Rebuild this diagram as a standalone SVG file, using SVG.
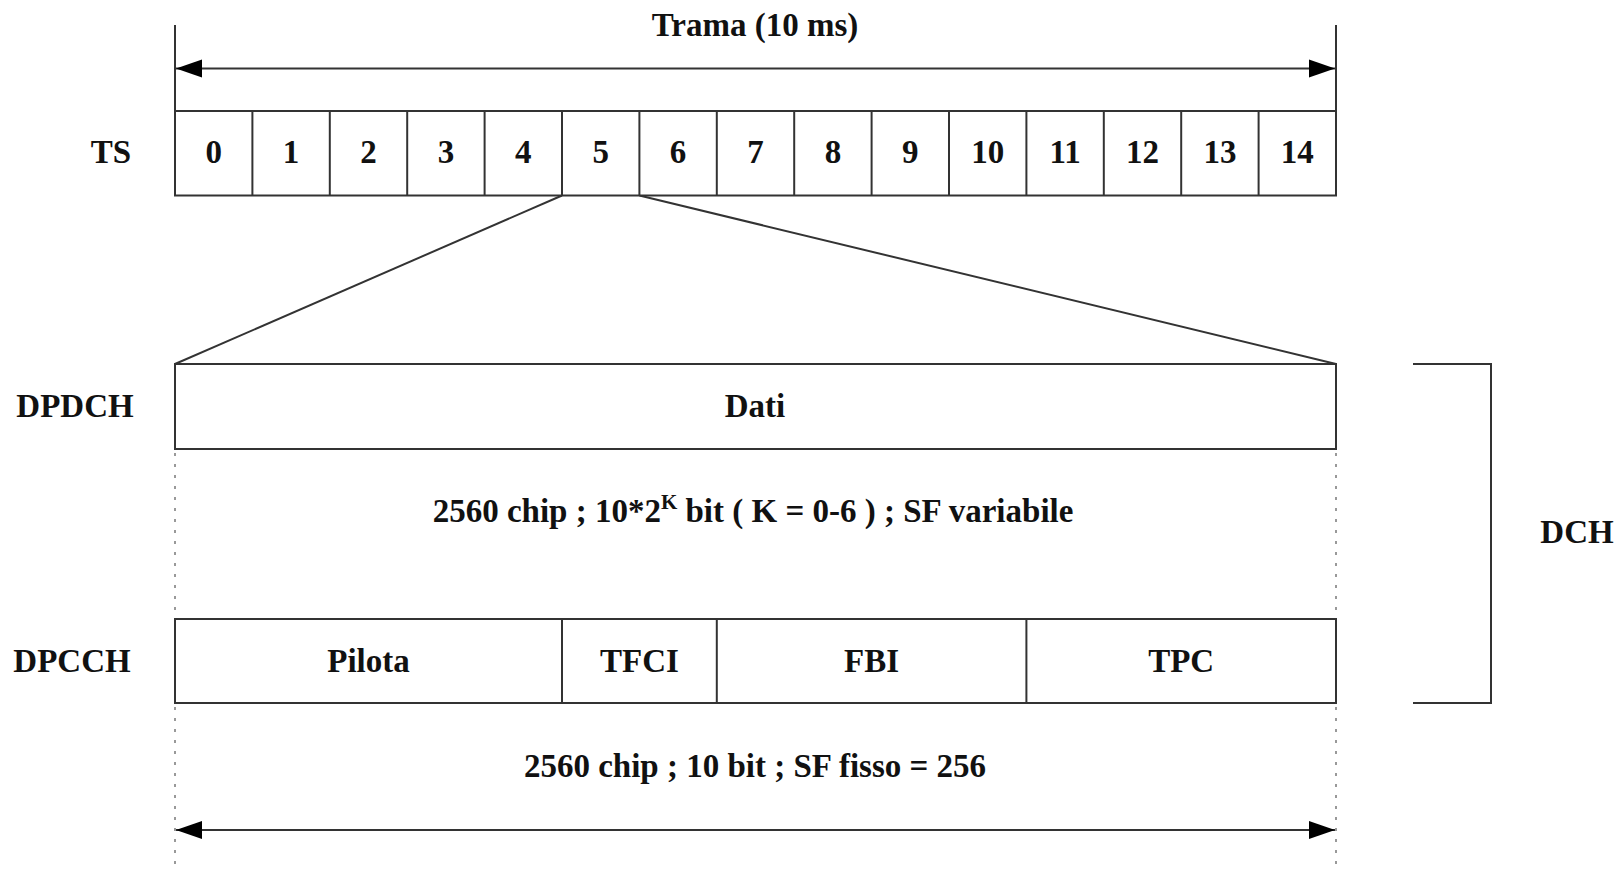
<svg xmlns="http://www.w3.org/2000/svg" width="1624" height="872" viewBox="0 0 1624 872">
<style>
.ln{stroke:#333;stroke-width:2;fill:none}
.box{stroke:#333;stroke-width:2;fill:#fff}
.dot{stroke:#999;stroke-width:2;stroke-dasharray:3 8;fill:none}
.t{font-family:"Liberation Serif","Times New Roman",serif;font-weight:bold;font-size:33px;fill:#111;text-anchor:middle}
</style>
<defs>
<marker id="ah" markerUnits="userSpaceOnUse" markerWidth="26" markerHeight="20" refX="26" refY="10" orient="auto-start-reverse" viewBox="0 0 26 20">
<path d="M0,1 L26,10 L0,19 Z" fill="#000"/>
</marker>
</defs>
<rect width="1624" height="872" fill="#fff"/>
<g id="connectors">
<line class="ln" x1="175" y1="25" x2="175" y2="111"/>
<line class="ln" x1="1336" y1="25" x2="1336" y2="111"/>
<line class="ln" x1="176" y1="68.5" x2="1335" y2="68.5" marker-start="url(#ah)" marker-end="url(#ah)"/>
<line class="ln" x1="562" y1="195.5" x2="175" y2="364"/>
<line class="ln" x1="639.4" y1="195.5" x2="1336" y2="364"/>
<line class="dot" x1="175" y1="453" x2="175" y2="619"/>
<line class="dot" x1="1336" y1="453" x2="1336" y2="619"/>
<line class="dot" x1="175" y1="707" x2="175" y2="872"/>
<line class="dot" x1="1336" y1="707" x2="1336" y2="872"/>
<line class="ln" x1="176" y1="830" x2="1335" y2="830" marker-start="url(#ah)" marker-end="url(#ah)"/>
<polyline class="ln" points="1413,364 1491,364 1491,703 1413,703"/>
</g>
<g id="title"><text class="t" x="755" y="36">Trama (10 ms)</text></g>
<g id="ts">
<text class="t" x="111" y="163">TS</text>
<rect class="box" x="175" y="111" width="1161" height="84.5"/>
<g class="ln">
<line x1="252.4" y1="111" x2="252.4" y2="195.5"/>
<line x1="329.8" y1="111" x2="329.8" y2="195.5"/>
<line x1="407.2" y1="111" x2="407.2" y2="195.5"/>
<line x1="484.6" y1="111" x2="484.6" y2="195.5"/>
<line x1="562" y1="111" x2="562" y2="195.5"/>
<line x1="639.4" y1="111" x2="639.4" y2="195.5"/>
<line x1="716.8" y1="111" x2="716.8" y2="195.5"/>
<line x1="794.2" y1="111" x2="794.2" y2="195.5"/>
<line x1="871.6" y1="111" x2="871.6" y2="195.5"/>
<line x1="949" y1="111" x2="949" y2="195.5"/>
<line x1="1026.4" y1="111" x2="1026.4" y2="195.5"/>
<line x1="1103.8" y1="111" x2="1103.8" y2="195.5"/>
<line x1="1181.2" y1="111" x2="1181.2" y2="195.5"/>
<line x1="1258.6" y1="111" x2="1258.6" y2="195.5"/>
</g>
<text class="t" x="213.7" y="163">0</text>
<text class="t" x="291.1" y="163">1</text>
<text class="t" x="368.5" y="163">2</text>
<text class="t" x="445.9" y="163">3</text>
<text class="t" x="523.3" y="163">4</text>
<text class="t" x="600.7" y="163">5</text>
<text class="t" x="678.1" y="163">6</text>
<text class="t" x="755.5" y="163">7</text>
<text class="t" x="832.9" y="163">8</text>
<text class="t" x="910.3" y="163">9</text>
<text class="t" x="987.7" y="163">10</text>
<text class="t" x="1065.1" y="163">11</text>
<text class="t" x="1142.5" y="163">12</text>
<text class="t" x="1219.9" y="163">13</text>
<text class="t" x="1297.3" y="163">14</text>
</g>
<g id="dpdch">
<text class="t" x="75" y="417">DPDCH</text>
<rect class="box" x="175" y="364" width="1161" height="85"/>
<text class="t" x="755" y="417">Dati</text>
</g>
<g id="dpdch-info"><text class="t" x="753" y="522">2560 chip ; 10*2<tspan font-size="21" dy="-13">K</tspan><tspan dy="13"> bit ( K = 0-6 ) ; SF variabile</tspan></text></g>
<g id="dpcch">
<text class="t" x="72" y="672">DPCCH</text>
<rect class="box" x="175" y="619" width="1161" height="84"/>
<line class="ln" x1="562" y1="619" x2="562" y2="703"/>
<line class="ln" x1="716.8" y1="619" x2="716.8" y2="703"/>
<line class="ln" x1="1026.4" y1="619" x2="1026.4" y2="703"/>
<text class="t" x="368.5" y="672">Pilota</text>
<text class="t" x="639.4" y="672">TFCI</text>
<text class="t" x="871.6" y="672">FBI</text>
<text class="t" x="1181.2" y="672">TPC</text>
</g>
<g id="dpcch-info"><text class="t" x="755" y="777">2560 chip ; 10 bit ; SF fisso = 256</text></g>
<g id="dch"><text class="t" x="1577" y="543">DCH</text></g>
</svg>
